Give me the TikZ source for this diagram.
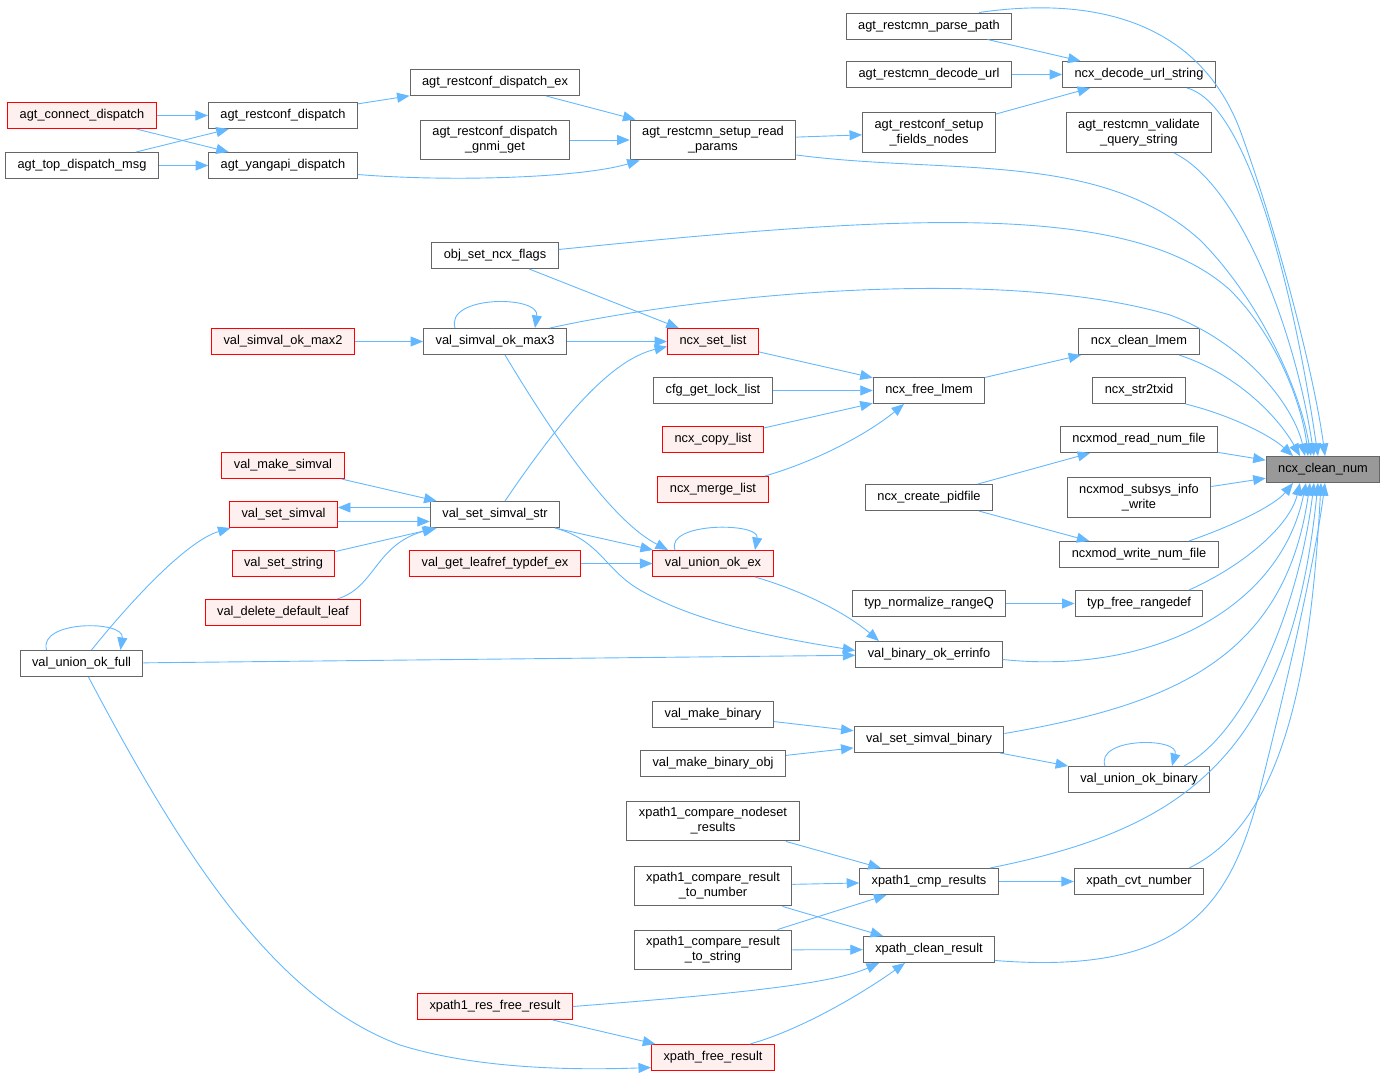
\documentclass[tikz,border=0pt]{standalone}
\usepackage{fontspec}
\setmainfont{Liberation Sans}
\usepackage{tikz}
\usetikzlibrary{arrows.meta}
\definecolor{callblue}{HTML}{63B8FF}
\definecolor{boxgray}{HTML}{666666}
\definecolor{rootgray}{HTML}{999999}
\definecolor{redfill}{HTML}{FFF0F0}
\tikzset{
	fn/.style={draw=boxgray,fill=white,line width=1pt,inner xsep=12pt,inner ysep=6.5pt,minimum height=26pt,align=center,font=\fontsize{12.8}{15}\selectfont},
	rfn/.style={fn,draw=red,fill=redfill},
	rootfn/.style={fn,fill=rootgray},
	call/.style={draw=callblue,line width=0.9pt,-{Triangle[length=12.5pt,width=10pt]}}
}
\begin{document}
\begin{tikzpicture}[x=1pt,y=-1pt]
						\useasboundingbox (0,0) rectangle (1385,1076);
						\node [fn] (parsepath) at (929,26) {agt\_restcmn\_parse\_path};
						\node [fn] (decodeurl) at (929,74.5) {agt\_restcmn\_decode\_url};
						\node [fn] (decodestr) at (1139,74.5) {ncx\_decode\_url\_string};
						\node [fn] (dispex) at (495,82.5) {agt\_restconf\_dispatch\_ex};
						\node [rfn] (connect) at (82,115.5) {agt\_connect\_dispatch};
						\node [fn] (restconf) at (283,115.5) {agt\_restconf\_dispatch};
						\node [fn] (gnmi) at (495,140) {agt\_restconf\_dispatch\\\_gnmi\_get};
						\node [fn] (setupread) at (713,140) {agt\_restcmn\_setup\_read\\\_params};
						\node [fn] (fields) at (929,132.5) {agt\_restconf\_setup\\\_fields\_nodes};
						\node [fn] (validate) at (1139,132.5) {agt\_restcmn\_validate\\\_query\_string};
						\node [fn] (topmsg) at (82,165.5) {agt\_top\_dispatch\_msg};
						\node [fn] (yangapi) at (283,165.5) {agt\_yangapi\_dispatch};
						\node [fn] (objflags) at (495,255.5) {obj\_set\_ncx\_flags};
						\node [rfn] (max2) at (283,341.5) {val\_simval\_ok\_max2};
						\node [fn] (max3) at (495,341.5) {val\_simval\_ok\_max3};
						\node [rfn] (setlist) at (713,341.5) {ncx\_set\_list};
						\node [fn] (cleanlmem) at (1139,341.5) {ncx\_clean\_lmem};
						\node [fn] (locklist) at (713,390.5) {cfg\_get\_lock\_list};
						\node [fn] (freelmem) at (929,390.5) {ncx\_free\_lmem};
						\node [fn] (str2txid) at (1139,390.5) {ncx\_str2txid};
						\node [rfn] (copylist) at (713,439.5) {ncx\_copy\_list};
						\node [fn] (readnum) at (1139,439.5) {ncxmod\_read\_num\_file};
						\node [rootfn] (root) at (1323,469.5) {ncx\_clean\_num};
						\node [rfn] (makesimval) at (283,465.5) {val\_make\_simval};
						\node [rfn] (mergelist) at (713,489.5) {ncx\_merge\_list};
						\node [fn] (pidfile) at (929,497.5) {ncx\_create\_pidfile};
						\node [fn] (subsys) at (1139,497.5) {ncxmod\_subsys\_info\\\_write};
						\node [rfn] (setsimval) at (283.5,514.5) {val\_set\_simval};
						\node [fn] (setsimvalstr) at (495,514.5) {val\_set\_simval\_str};
						\node [fn] (writenum) at (1139,554.5) {ncxmod\_write\_num\_file};
						\node [rfn] (setstring) at (283.5,563.5) {val\_set\_string};
						\node [rfn] (leafref) at (495,563.5) {val\_get\_leafref\_typdef\_ex};
						\node [rfn] (unionex) at (713,563.5) {val\_union\_ok\_ex};
						\node [fn] (normrange) at (929,603.5) {typ\_normalize\_rangeQ};
						\node [fn] (freerange) at (1139,603.5) {typ\_free\_rangedef};
						\node [rfn] (deldefault) at (283,612.5) {val\_delete\_default\_leaf};
						\node [fn] (binerr) at (929,654.5) {val\_binary\_ok\_errinfo};
						\node [fn] (unionfull) at (81.5,663.5) {val\_union\_ok\_full};
						\node [fn] (makebin) at (713,714.5) {val\_make\_binary};
						\node [fn] (setbin) at (929,739.5) {val\_set\_simval\_binary};
						\node [fn] (makebinobj) at (713,763.5) {val\_make\_binary\_obj};
						\node [fn] (unionbin) at (1139,779.5) {val\_union\_ok\_binary};
						\node [fn] (nodeset) at (713,821) {xpath1\_compare\_nodeset\\\_results};
						\node [fn] (tonumber) at (713,886) {xpath1\_compare\_result\\\_to\_number};
						\node [fn] (cmpres) at (929,881.5) {xpath1\_cmp\_results};
						\node [fn] (cvtnum) at (1139,881.5) {xpath\_cvt\_number};
						\node [fn] (tostring) at (713,950) {xpath1\_compare\_result\\\_to\_string};
						\node [fn] (cleanres) at (929,949.5) {xpath\_clean\_result};
						\node [rfn] (resfree) at (495,1006.5) {xpath1\_res\_free\_result};
						\node [rfn] (freeres) at (713,1057.5) {xpath\_free\_result};

						% top block
						\draw [call] (connect) -- (restconf);
						\draw [call] (connect) -- (yangapi);
						\draw [call] (topmsg) -- (restconf);
						\draw [call] (topmsg) -- (yangapi);
						\draw [call] (restconf) -- (dispex);
						\draw [call] ([yshift=-9pt]yangapi.east) .. controls (450,182) and (580,178) .. ([xshift=10pt]setupread.south west);
						\draw [call] (dispex) -- (setupread);
						\draw [call] (gnmi) -- (setupread);
						\draw [call] (setupread) -- (fields);
						\draw [call] (parsepath) -- (decodestr);
						\draw [call] (decodeurl) -- (decodestr);
						\draw [call] (fields) -- (decodestr);

						% lists
						\draw [call] (objflags) -- (setlist);
						\draw [call] (max2) -- (max3);
						\draw [call] ([xshift=-40pt]max3.north) .. controls (445,295) and (540,295) .. ([xshift=40pt]max3.north);
						\draw [call] (max3) -- (setlist);
						\draw [call] ([xshift=10pt]max3.south) .. controls (550,430) and (610,520) .. ([xshift=-45pt]unionex.north);
						\draw [call] (setlist) -- (freelmem);
						\draw [call] (locklist) -- (freelmem);
						\draw [call] (copylist) -- (freelmem);
						\draw [call] ([xshift=52pt]mergelist.north) .. controls (820,460) and (870,432) .. ([xshift=-25pt]freelmem.south);
						\draw [call] (freelmem) -- (cleanlmem);
						\draw [call] (pidfile) -- (readnum);
						\draw [call] (pidfile) -- (writenum);

						% simval
						\draw [call] (makesimval) -- (setsimvalstr);
						\draw [call] ([yshift=7pt]setsimvalstr.west) -- ([yshift=7pt]setsimval.east);
						\draw [call] ([yshift=-7pt]setsimval.east) -- ([yshift=-7pt]setsimvalstr.west);
						\draw [call] (setstring) -- (setsimvalstr);
						\draw [call] ([xshift=54pt]deldefault.north) .. controls (375,588) and (375,545) .. ([xshift=-60pt]setsimvalstr.south);
						\draw [call] ([xshift=10pt]setsimvalstr.north) .. controls (560,420) and (610,360) .. ([yshift=-5pt]setlist.west);
						\draw [call] (setsimvalstr) -- (unionex);
						\draw [call] ([xshift=60pt]setsimvalstr.south) .. controls (600,540) and (605,570) .. (640,590) .. controls (700,625) and (790,640) .. ([yshift=4pt]binerr.west);
						\draw [call] (leafref) -- (unionex);
						\draw [call] ([xshift=-38pt]unionex.north) .. controls (665,522) and (760,522) .. ([xshift=42pt]unionex.north);
						\draw [call] ([xshift=42pt]unionex.south) .. controls (800,590) and (845,612) .. ([xshift=-50pt]binerr.north);
						\draw [call] ([xshift=-35pt]unionfull.north) .. controls (38,620) and (125,620) .. ([xshift=39pt]unionfull.north);
						\draw [call] ([xshift=10pt]unionfull.north) .. controls (140,590) and (190,540) .. ([xshift=-53pt]setsimval.south);
						\draw [call] (unionfull) -- (binerr);
						\draw [call] ([xshift=7pt]unionfull.south) .. controls (190,870) and (280,1000) .. (400,1045) .. controls (480,1070) and (580,1070) .. ([yshift=-10pt]freeres.west);
						\draw [call] (normrange) -- (freerange);

						% binary and xpath
						\draw [call] (makebin) -- (setbin);
						\draw [call] (makebinobj) -- (setbin);
						\draw [call] (setbin) -- (unionbin);
						\draw [call] ([xshift=-34pt]unionbin.north) .. controls (1095,737) and (1180,737) .. ([xshift=33pt]unionbin.north);
						\draw [call] (nodeset) -- (cmpres);
						\draw [call] (tonumber) -- (cmpres);
						\draw [call] (tonumber) -- (cleanres);
						\draw [call] (tostring) -- (cmpres);
						\draw [call] (tostring) -- (cleanres);
						\draw [call] (cmpres) -- (cvtnum);
						\draw [call] (resfree.east) .. controls (720,995) and (830,985) .. ([xshift=-50pt]cleanres.south);
						\draw [call] (resfree) -- (freeres);
						\draw [call] ([xshift=37pt]freeres.north) .. controls (800,1030) and (860,995) .. ([xshift=-24pt]cleanres.south);

						% into ncx_clean_num
						\draw [call] ([xshift=50pt]parsepath.north) .. controls (1100,-5) and (1200,25) .. (1240,130) .. controls (1280,240) and (1315,380) .. ([xshift=2pt]root.north);
						\draw [call] ([xshift=48pt]decodestr.south) .. controls (1250,105) and (1295,300) .. ([xshift=-5pt]root.north);
						\draw [call] ([xshift=35pt]validate.south) .. controls (1240,185) and (1295,330) .. ([xshift=-9pt]root.north);
						\draw [call] ([yshift=-15pt]setupread.east) .. controls (950,175) and (1100,150) .. (1200,240) .. controls (1260,300) and (1300,390) .. ([xshift=-12pt]root.north);
						\draw [call] ([yshift=6pt]objflags.east) .. controls (900,215) and (1130,200) .. (1230,290) .. controls (1280,340) and (1303,410) .. ([xshift=-15pt]root.north);
						\draw [call] ([xshift=55pt]max3.north) .. controls (700,295) and (1000,265) .. (1170,315) .. controls (1250,345) and (1295,410) .. ([xshift=-18pt]root.north);
						\draw [call] ([xshift=40pt]cleanlmem.south) .. controls (1240,375) and (1280,420) .. ([xshift=-23pt]root.north);
						\draw [call] (str2txid.south east) .. controls (1230,415) and (1270,435) .. ([xshift=-30pt]root.north);
						\draw [call] (readnum) -- (root);
						\draw [call] (subsys) -- (root);
						\draw [call] ([xshift=50pt]writenum.north) .. controls (1235,525) and (1275,505) .. ([xshift=-30pt]root.south);
						\draw [call] ([xshift=50pt]freerange.north) .. controls (1245,565) and (1290,525) .. ([xshift=-23pt]root.south);
						\draw [call] ([yshift=-5pt]binerr.east) .. controls (1150,675) and (1280,610) .. ([xshift=-17pt]root.south);
						\draw [call] ([yshift=6pt]setbin.east) .. controls (1170,705) and (1285,660) .. ([xshift=-13pt]root.south);
						\draw [call] ([xshift=45pt]unionbin.north) .. controls (1250,730) and (1300,600) .. ([xshift=-9pt]root.south);
						\draw [call] ([xshift=61pt]cmpres.north) .. controls (1180,830) and (1290,760) .. ([xshift=-5pt]root.south);
						\draw [call] ([xshift=50pt]cvtnum.north) .. controls (1290,820) and (1312,650) .. ([xshift=-2pt]root.south);
						\draw [call] ([yshift=-11pt]cleanres.east) .. controls (1180,975) and (1230,910) .. (1260,790) .. controls (1290,670) and (1315,560) .. ([xshift=2pt]root.south);
					\end{tikzpicture}
\end{document}
